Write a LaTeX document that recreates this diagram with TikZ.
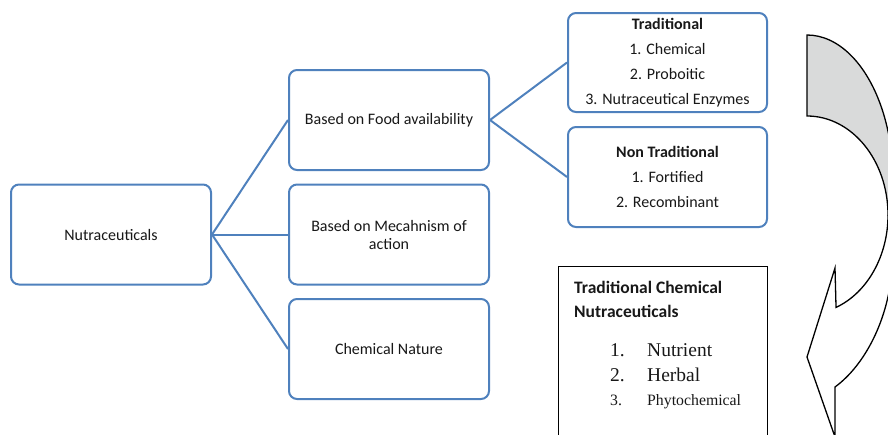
\documentclass[tikz,border=0pt]{standalone}
\usepackage{fontspec}
\setmainfont{Carlito}
\newfontfamily\serifface{Liberation Serif}
\definecolor{boxblue}{RGB}{79,129,189}
\definecolor{ribbongray}{RGB}{217,218,218}
\definecolor{inkgray}{RGB}{24,24,24}

\begin{document}
\begin{tikzpicture}[x=1pt,y=-1pt,
  catbox/.style={draw=boxblue, line width=2pt, rounded corners=8pt, fill=white,
    minimum width=200pt, minimum height=100pt, align=center, text=inkgray,
    font=\fontsize{16}{25}\selectfont, inner sep=0pt},
  link/.style={draw=boxblue, line width=2pt},
  ribbon/.style={draw=black, line width=1.3pt, line join=miter},
  listnum/.style={anchor=base west, inner sep=0pt, text=inkgray}
]
\useasboundingbox (0,0) rectangle (888,434);
\begin{scope}
\clip (0,0) rectangle (888,434);

% classification tree
\node[catbox] (nut) at (111,234.5) {Nutraceuticals};
\node[catbox] (food) at (389,120) {Based on Food availability};
\node[catbox, font=\fontsize{16}{18}\selectfont] (mech) at (389,234.5) {Based on Mecahnism of\\action};
\node[catbox] (chem) at (389,349) {Chemical Nature};
\node[catbox, minimum width=199pt, minimum height=99pt] (trad) at (667.5,62.5)
  {\textbf{Traditional}\\1. Chemical\\2. Proboitic\\3. Nutraceutical Enzymes};
\node[catbox, minimum width=199pt] (nontrad) at (667.5,177)
  {\textbf{Non Traditional}\\1. Fortified\\2. Recombinant};

\draw[link] (nut.east) -- (food.west);
\draw[link] (nut.east) -- (mech.west);
\draw[link] (nut.east) -- (chem.west);
\draw[link] (food.east) -- (trad.west);
\draw[link] (food.east) -- (nontrad.west);

% chemical nutraceuticals panel
\node[draw=black, line width=1.2pt, minimum width=209pt, minimum height=200pt,
  anchor=north west, inner sep=0pt] (chembox) at (558,266) {};
\node[anchor=base west, align=left, inner sep=0pt, text=inkgray,
  font=\bfseries\fontsize{17.5}{24}\selectfont] (chemhead) at (574,317)
  {Traditional Chemical\\Nutraceuticals};
\node[listnum, font=\serifface\fontsize{19.5}{20}\selectfont] (num1) at (610,356.5) {1.};
\node[listnum, font=\serifface\fontsize{19.5}{20}\selectfont] (item1) at (647,356.5) {Nutrient};
\node[listnum, font=\serifface\fontsize{19.5}{20}\selectfont] (num2) at (610,381.5) {2.};
\node[listnum, font=\serifface\fontsize{19.5}{20}\selectfont] (item2) at (647,381.5) {Herbal};
\node[listnum, font=\serifface\fontsize{15.8}{16}\selectfont] (num3) at (610,405.5) {3.};
\node[listnum, font=\serifface\fontsize{15.8}{16}\selectfont] (item3) at (647,405.5) {Phytochemical};

% curved arrow: back face
\filldraw[ribbon, fill=ribbongray] (807,35)
  arc[start angle=90, end angle=-14, x radius=86pt, y radius=145pt]
  -- (888,215)
  arc[start angle=0, end angle=90, x radius=81pt, y radius=99pt]
  -- cycle;
% curved arrow: front face with head
\filldraw[ribbon, fill=white] (888,215)
  arc[start angle=0, end angle=-69, x radius=81pt, y radius=99pt]
  -- (835,268) -- (807,357) -- (835,437) -- (835,387)
  .. controls (865,365) and (888,320) .. (892,270);
\end{scope}
\end{tikzpicture}
\end{document}
